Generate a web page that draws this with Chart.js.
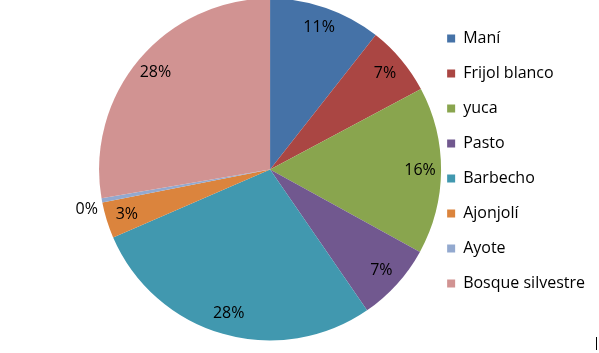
<!DOCTYPE html>
<html>
<head>
<meta charset="utf-8">
<script src="https://cdn.jsdelivr.net/npm/chart.js@4.4.1/dist/chart.umd.min.js"></script>
<style>
  html, body { margin: 0; padding: 0; background: #fff; }
  #wrap { position: relative; width: 599px; height: 353px; }
  #edge { position: absolute; left: 596px; top: 337px; width: 1px; height: 13px; background: #000; }
</style>
</head>
<body>
<div id="wrap">
  <canvas id="chart" width="599" height="353"></canvas>
  <div id="edge"></div>
</div>
<script>
// land use shares (%)
const categories = ['Maní', 'Frijol blanco', 'yuca', 'Pasto', 'Barbecho', 'Ajonjolí', 'Ayote', 'Bosque silvestre'];
const shares = [10.6, 6.6, 15.8, 7.4, 28.1, 3.4, 0.4, 27.7];
const sliceColors = ['#4572A7', '#AA4643', '#89A54E', '#71588F', '#4198AF', '#DB843D', '#93A9CF', '#D19392'];

Chart.defaults.font.family = "'Open Sans', sans-serif";
Chart.defaults.font.size = 16;
Chart.defaults.color = '#000';

// percent labels inside the slices, tiny slices go outside
const pctLabels = {
  id: 'pctLabels',
  afterDatasetsDraw(chart) {
    const ctx = chart.ctx;
    const meta = chart.getDatasetMeta(0);
    ctx.save();
    ctx.font = "16px 'Open Sans', sans-serif";
    ctx.fillStyle = '#000';
    meta.data.forEach((arc, i) => {
      const p = arc.getProps(['x', 'y', 'startAngle', 'endAngle', 'outerRadius'], true);
      const mid = (p.startAngle + p.endAngle) / 2;
      const txt = Math.round(shares[i]) + '%';
      if (shares[i] < 1) {
        const r = p.outerRadius + 4;
        ctx.textAlign = 'right';
        ctx.textBaseline = 'top';
        ctx.fillText(txt, p.x + r * Math.cos(mid), p.y + r * Math.sin(mid));
      } else {
        const r = p.outerRadius - 21;
        ctx.textAlign = 'center';
        ctx.textBaseline = 'middle';
        ctx.fillText(txt, p.x + r * Math.cos(mid), p.y + r * Math.sin(mid));
      }
    });
    ctx.restore();
  }
};

new Chart(document.getElementById('chart'), {
  type: 'pie',
  data: {
    labels: categories,
    datasets: [{
      data: shares,
      backgroundColor: sliceColors,
      borderWidth: 0,
      radius: 171,
      clip: false
    }]
  },
  options: {
    responsive: false,
    animation: false,
    events: [],
    layout: {
      padding: { left: 112, right: 4, top: 11.5, bottom: 25.5 }
    },
    plugins: {
      tooltip: { enabled: false },
      legend: {
        position: 'right',
        align: 'start',
        labels: {
          boxWidth: 8,
          boxHeight: 8,
          padding: 19,
          color: '#000',
          font: { size: 16 }
        }
      }
    }
  },
  plugins: [pctLabels]
});
</script>
</body>
</html>
